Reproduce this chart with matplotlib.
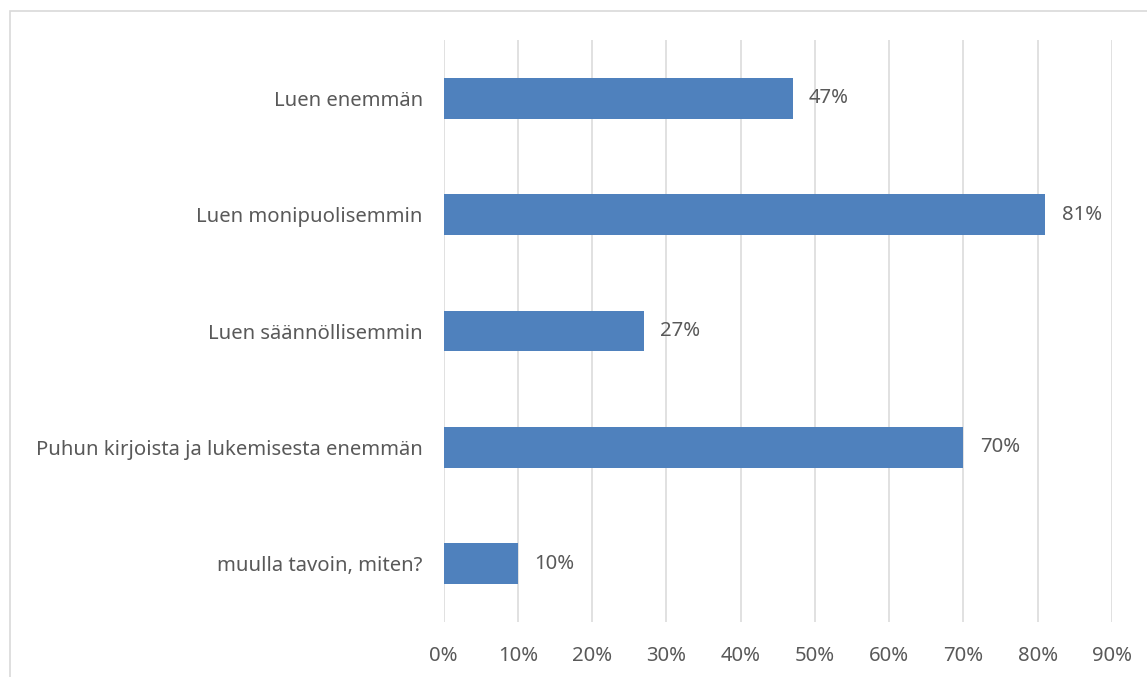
import matplotlib.pyplot as plt
from matplotlib.patches import Rectangle

# vastausvaihtoehdot ja osuudet (%)
kategoriat = ['Luen enemmän', 'Luen monipuolisemmin', 'Luen säännöllisemmin',
              'Puhun kirjoista ja lukemisesta enemmän', 'muulla tavoin, miten?']
osuudet = [47, 81, 27, 70, 10]
xtikit = list(range(0, 100, 10))

plt.rcParams['font.family'] = ['Noto Sans', 'DejaVu Sans']
harmaa = '#595959'
koko = 14.6

fig = plt.figure(figsize=(11.47, 6.77), dpi=100)
ax = fig.add_axes([0.3867, 0.0812, 0.9695 - 0.3867, 0.9409 - 0.0812])

# kaavion reunus
fig.patches.append(Rectangle((10 / 1147, -0.05), 1.1, 1 - 11 / 677 + 0.05,
                             transform=fig.transFigure, fill=False,
                             edgecolor='#d9d9d9', linewidth=1.2))

y = range(len(kategoriat))
ax.barh(y, osuudet, height=0.35, color='#4f81bd', zorder=3)
for yi, v in zip(y, osuudet):
    ax.text(v + 2.2, yi, f'{v}%', va='center', ha='left', fontsize=koko, color=harmaa)

ax.set_xlim(0, 90)
ax.set_ylim(len(kategoriat) - 0.5, -0.5)
ax.set_xticks(xtikit)
ax.set_xticklabels([f'{t}%' for t in xtikit], fontsize=koko, color=harmaa)
ax.set_yticks(list(y))
ax.set_yticklabels(kategoriat, fontsize=koko, color=harmaa)
ax.tick_params(axis='both', length=0)
ax.tick_params(axis='x', pad=17)
ax.tick_params(axis='y', pad=15)
ax.grid(axis='x', color='#d9d9d9', linewidth=1.1, zorder=0)
for s in ax.spines.values():
    s.set_visible(False)

fig.savefig('out.png', dpi=100)
